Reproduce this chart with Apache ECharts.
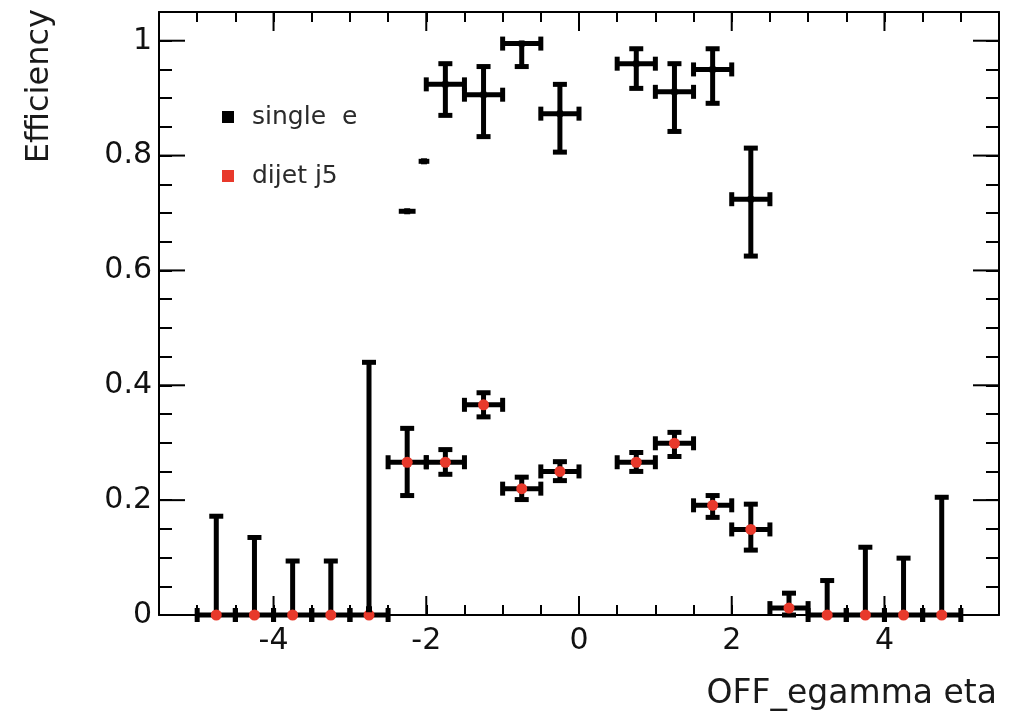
<!DOCTYPE html>
<html>
<head>
<meta charset="utf-8">
<script src="https://cdn.jsdelivr.net/npm/echarts@6/dist/echarts.min.js"></script>
<style>
  html, body { margin: 0; padding: 0; background: #fff; }
  #chart { width: 1019px; height: 716px; }
</style>
</head>
<body>
<div id="chart"></div>
<script>
// axis
const xMajor = [-4, -2, 0, 2, 4];
const yMajor = [0, 0.2, 0.4, 0.6, 0.8, 1];

// single e
const etaE   = [-2.75, -2.25, -2.03, -1.75, -1.25, -0.75, -0.25, 0.75, 1.25, 1.75, 2.25];
const effE   = [0.01, 0.703, 0.79, 0.924, 0.906, 0.995, 0.873, 0.96, 0.911, 0.95, 0.724];
const exE    = [0, 0.11, 0.07, 0.25, 0.25, 0.25, 0.25, 0.25, 0.25, 0.25, 0.25];
const errLoE = [0, 0, 0, 0.054, 0.073, 0.04, 0.067, 0.043, 0.069, 0.059, 0.099];
const errHiE = [0, 0, 0, 0.036, 0.049, 0.005, 0.051, 0.026, 0.049, 0.036, 0.089];

// dijet j5
const etaJ   = [-4.75, -4.25, -3.75, -3.25, -2.75, -2.25, -1.75, -1.25, -0.75, -0.25, 0.75, 1.25, 1.75, 2.25, 2.75, 3.25, 3.75, 4.25, 4.75];
const effJ   = [0, 0, 0, 0, 0, 0.266, 0.266, 0.366, 0.22, 0.25, 0.266, 0.299, 0.191, 0.149, 0.012, 0, 0, 0, 0];
const errLoJ = [0, 0, 0, 0, 0, 0.058, 0.021, 0.021, 0.019, 0.016, 0.016, 0.023, 0.021, 0.036, 0.012, 0, 0, 0, 0];
const errHiJ = [0.172, 0.135, 0.094, 0.094, 0.44, 0.059, 0.022, 0.021, 0.02, 0.017, 0.017, 0.019, 0.017, 0.044, 0.026, 0.06, 0.118, 0.099, 0.205];
const binHalf = 0.25;

const RED = "#e8392b";
const FONT = "DejaVu Sans";
const LW = 5;     // error bar width
const CAP = 7;    // half length of the end caps

const chart = echarts.init(document.getElementById("chart"));

function seg(x1, y1, x2, y2) {
  return {
    type: "line",
    shape: { x1: x1, y1: y1, x2: x2, y2: y2 },
    style: { stroke: "#000", lineWidth: LW },
  };
}

// ROOT 风格误差十字（带端帽）
function errorCross(marker) {
  return function (params, api) {
    const x = api.value(0), y = api.value(1);
    const exl = api.value(2), exh = api.value(3);
    const eyl = api.value(4), eyh = api.value(5);
    const c = api.coord([x, y]);
    const l = api.coord([x - exl, y])[0];
    const r = api.coord([x + exh, y])[0];
    const b = api.coord([x, y - eyl])[1];
    const t = api.coord([x, y + eyh])[1];
    const kids = [];
    if (exl > 0 || exh > 0) kids.push(seg(l, c[1], r, c[1]));
    if (c[0] - l > 10) kids.push(seg(l, c[1] - CAP, l, c[1] + CAP));
    if (r - c[0] > 10) kids.push(seg(r, c[1] - CAP, r, c[1] + CAP));
    if (eyl > 0 || eyh > 0) kids.push(seg(c[0], b, c[0], t));
    if (b - c[1] > 6) kids.push(seg(c[0] - CAP, b, c[0] + CAP, b));
    if (c[1] - t > 6) kids.push(seg(c[0] - CAP, t, c[0] + CAP, t));
    kids.push(marker(c));
    return { type: "group", children: kids };
  };
}

const squareMarker = (c) => ({
  type: "rect",
  shape: { x: c[0] - 3, y: c[1] - 3, width: 6, height: 6 },
  style: { fill: "#000" },
});
const dotMarker = (c) => ({
  type: "circle",
  shape: { cx: c[0], cy: c[1], r: 5.5 },
  style: { fill: RED },
});

const dataE = etaE.map((v, i) => [v, effE[i], exE[i], exE[i], errLoE[i], errHiE[i]]);
const dataJ = etaJ.map((v, i) => [v, effJ[i], binHalf, binHalf, errLoJ[i], errHiJ[i]]);

const tickStyle = { color: "#000", width: 2 };
const axisLine = { show: true, onZero: false, lineStyle: { color: "#000", width: 2 } };

const option = {
  animation: false,
  backgroundColor: "#fff",
  grid: { left: 159, right: 20, top: 12, bottom: 101 },
  legend: {
    orient: "vertical",
    left: 222,
    top: 104,
    padding: 0,
    itemWidth: 12,
    itemHeight: 12,
    itemGap: 33,
    selectedMode: false,
    data: [
      { name: "single  e", icon: "rect", itemStyle: { color: "#000" } },
      { name: "dijet j5", icon: "rect", itemStyle: { color: RED } },
    ],
    textStyle: { fontFamily: FONT, fontSize: 25, lineHeight: 26, color: "#2a2a2a", padding: [0, 0, 0, 13] },
  },
  xAxis: [
    {
      type: "value",
      min: -5.5,
      max: 5.5,
      interval: 0.5,
      position: "bottom",
      axisLine: axisLine,
      splitLine: { show: false },
      axisTick: { inside: true, length: 10, lineStyle: tickStyle },
      axisLabel: {
        margin: 11,
        fontFamily: FONT,
        fontSize: 30,
        color: "#111",
        showMinLabel: false,
        showMaxLabel: false,
        formatter: (v) => (xMajor.indexOf(+v) >= 0 ? String(v) : ""),
      },
    },
    {
      type: "value",
      min: -5.5,
      max: 5.5,
      interval: 0.5,
      position: "top",
      axisLine: axisLine,
      splitLine: { show: false },
      axisTick: { inside: true, length: 10, lineStyle: tickStyle },
      axisLabel: { show: false },
    },
  ],
  yAxis: [
    {
      type: "value",
      min: 0,
      max: 1.05,
      interval: 0.05,
      position: "left",
      axisLine: axisLine,
      splitLine: { show: false },
      axisTick: { inside: true, length: 13, lineStyle: tickStyle },
      axisLabel: {
        margin: 7,
        fontFamily: FONT,
        fontSize: 30,
        color: "#111",
        formatter: (v) => {
          const k = Math.round(v / 0.2);
          return Math.abs(v - k * 0.2) < 1e-6 ? String(+(k * 0.2).toFixed(1)) : "";
        },
      },
    },
    {
      type: "value",
      min: 0,
      max: 1.05,
      interval: 0.05,
      position: "right",
      axisLine: axisLine,
      splitLine: { show: false },
      axisTick: { inside: true, length: 13, lineStyle: tickStyle },
      axisLabel: { show: false },
    },
  ],
  graphic: [
    {
      type: "text",
      right: 22,
      top: 678,
      style: { text: "OFF_egamma eta", font: "33px " + FONT, fill: "#1a1a1a" },
    },
    {
      type: "text",
      x: 40,
      y: 9,
      rotation: Math.PI / 2,
      style: {
        text: "Efficiency",
        font: "32px " + FONT,
        fill: "#1a1a1a",
        align: "right",
        verticalAlign: "middle",
      },
    },
  ],
  series: [
    {
      // 大刻度（x 方向，上下两边）
      type: "custom",
      silent: true,
      clip: false,
      data: xMajor.map((v) => [v, 0]),
      renderItem: (params, api) => {
        const cs = params.coordSys;
        const px = api.coord([api.value(0), 0])[0];
        return {
          type: "group",
          children: [
            { type: "line", shape: { x1: px, y1: cs.y + cs.height, x2: px, y2: cs.y + cs.height - 19 }, style: { stroke: "#000", lineWidth: 2 } },
            { type: "line", shape: { x1: px, y1: cs.y, x2: px, y2: cs.y + 19 }, style: { stroke: "#000", lineWidth: 2 } },
          ],
        };
      },
    },
    {
      // 大刻度（y 方向，左右两边）
      type: "custom",
      silent: true,
      clip: false,
      data: yMajor.map((v) => [0, v]),
      renderItem: (params, api) => {
        const cs = params.coordSys;
        const py = api.coord([0, api.value(1)])[1];
        return {
          type: "group",
          children: [
            { type: "line", shape: { x1: cs.x, y1: py, x2: cs.x + 26, y2: py }, style: { stroke: "#000", lineWidth: 2 } },
            { type: "line", shape: { x1: cs.x + cs.width, y1: py, x2: cs.x + cs.width - 26, y2: py }, style: { stroke: "#000", lineWidth: 2 } },
          ],
        };
      },
    },
    {
      name: "dijet j5",
      type: "custom",
      clip: false,
      itemStyle: { color: RED },
      dimensions: ["eta", "eff", "exl", "exh", "eyl", "eyh"],
      encode: { x: 0, y: 1 },
      data: dataJ,
      renderItem: errorCross(dotMarker),
    },
    {
      name: "single  e",
      type: "custom",
      clip: false,
      itemStyle: { color: "#000" },
      dimensions: ["eta", "eff", "exl", "exh", "eyl", "eyh"],
      encode: { x: 0, y: 1 },
      data: dataE,
      renderItem: errorCross(squareMarker),
    },
  ],
};

chart.setOption(option);
</script>
</body>
</html>
